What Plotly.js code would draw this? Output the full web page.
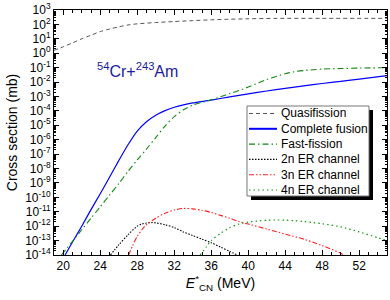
<!DOCTYPE html>
<html>
<head>
<meta charset="utf-8">
<script src="https://cdn.plot.ly/plotly-3.0.1.min.js"></script>
<style>html,body{margin:0;padding:0;background:#fff;}#chart{width:390px;height:300px;}</style>
</head>
<body>
<div id="chart"></div>
<script>
// Series names
const seriesNames = ["Quasifission", "Complete fusion", "Fast-fission", "2n ER channel", "3n ER channel", "4n ER channel"];

// Energies E*_CN (MeV) and log10 of cross section (mb)
const energyQF = [19, 20, 21, 22, 23, 24, 25, 26, 27, 28, 30, 32, 34, 36, 38, 40, 43, 48, 55];
const logQF = [0.2, 0.45, 0.72, 1.0, 1.25, 1.5, 1.68, 1.83, 1.96, 2.04, 2.13, 2.2, 2.26, 2.32, 2.36, 2.39, 2.42, 2.42, 2.42];

const energyCF = [20.2, 21, 22, 23, 24, 25, 26, 27, 28, 29, 30, 31, 32, 33, 34, 36, 38, 40, 42, 44, 46, 48, 50, 52, 55];
const logCF = [-14, -13.1, -12.0, -10.85, -9.75, -8.6, -7.45, -6.35, -5.4, -4.75, -4.3, -3.98, -3.75, -3.58, -3.45, -3.25, -3.03, -2.82, -2.62, -2.44, -2.26, -2.1, -1.95, -1.8, -1.55];

const energyFF = [19.8, 21, 22, 23, 24, 25, 26, 27, 28, 29, 30, 31, 32, 33, 34, 36, 38, 40, 42, 44, 45, 46, 48, 50, 52, 55];
const logFF = [-14, -13.05, -12.25, -11.45, -10.65, -9.85, -9.05, -8.2, -7.4, -6.65, -5.85, -5.05, -4.4, -3.92, -3.6, -3.23, -2.8, -2.35, -1.82, -1.42, -1.28, -1.2, -1.1, -1.06, -1.03, -1.0];

const energy2n = [25.1, 26, 27, 28, 28.5, 29, 29.6, 30, 31, 32, 33, 34, 35, 36, 37, 38, 38.8];
const log2n = [-14, -13.3, -12.6, -12.0, -11.85, -11.78, -11.75, -11.77, -11.9, -12.1, -12.4, -12.65, -12.9, -13.15, -13.45, -13.75, -14];

const energy3n = [27.06, 27.5, 28, 28.5, 29, 30, 31, 32, 33, 34, 35, 36, 37, 38, 39, 40, 42, 44, 46, 48, 50, 50.3];
const log3n = [-14, -13.35, -12.7, -12.25, -11.9, -11.45, -11.1, -10.88, -10.77, -10.8, -10.9, -11.05, -11.25, -11.45, -11.68, -11.85, -12.2, -12.55, -12.9, -13.35, -13.88, -14];

const energy4n = [34.8, 35.5, 36, 37, 38, 39, 40, 41, 42, 43, 44, 45, 46, 47, 48, 50, 52, 54, 55];
const log4n = [-14, -13.4, -13.0, -12.5, -12.1, -11.85, -11.72, -11.64, -11.59, -11.57, -11.58, -11.62, -11.68, -11.75, -11.83, -12.05, -12.4, -12.8, -13.0];

// Y tick exponents
const yTickExp = [-14, -13, -12, -11, -10, -9, -8, -7, -6, -5, -4, -3, -2, -1, 0, 1, 2, 3];

const toMb = a => a.map(v => Math.pow(10, v));

const styles = [
  {color: '#555555', dash: '4px,3px', width: 1},
  {color: '#0000ff', dash: 'solid', width: 1.2},
  {color: '#118811', dash: '6px,3px,1.5px,3px', width: 1.1},
  {color: '#000000', dash: '1.5px,1.5px', width: 1.1},
  {color: '#ff2020', dash: '5px,2px,1.5px,2px,1.5px,2px', width: 1.1},
  {color: '#119911', dash: '1.5px,3px', width: 1.2}
];
const xs = [energyQF, energyCF, energyFF, energy2n, energy3n, energy4n];
const ys = [logQF, logCF, logFF, log2n, log3n, log4n];

const traces = xs.map((x, i) => ({
  x: x, y: toMb(ys[i]), name: seriesNames[i], type: 'scatter', mode: 'lines',
  line: {color: styles[i].color, dash: styles[i].dash, width: styles[i].width, shape: 'spline', smoothing: 0.8},
  showlegend: false, cliponaxis: true
}));

// layout geometry helpers (pixel -> paper)
const M = {l: 54, r: 3, t: 10, b: 45};
const W = 390, H = 300;
const pw = W - M.l - M.r, ph = H - M.t - M.b;
const px = p => (p - M.l) / pw;
const py = p => 1 - (p - M.t) / ph;

const shapes = [];
const annotations = [];
// legend shadow and box
shapes.push({type: 'rect', xref: 'paper', yref: 'paper', x0: px(251), x1: px(373), y0: py(200), y1: py(110), fillcolor: '#000', line: {width: 0}, layer: 'above'});
shapes.push({type: 'rect', xref: 'paper', yref: 'paper', x0: px(247), x1: px(369), y0: py(196), y1: py(106), fillcolor: '#fff', line: {color: '#777', width: 1}, layer: 'above'});
seriesNames.forEach((n, i) => {
  const yy = 113.5 + i * 15.3;
  shapes.push({type: 'line', xref: 'paper', yref: 'paper', x0: px(249), x1: px(277), y0: py(yy), y1: py(yy),
    line: {color: styles[i].color, dash: styles[i].dash, width: i === 1 ? 2 : styles[i].width}, layer: 'above'});
  annotations.push({xref: 'paper', yref: 'paper', x: px(279), y: py(yy), text: n, showarrow: false,
    xanchor: 'left', yanchor: 'middle', font: {family: 'Liberation Sans, Arial, sans-serif', size: 12, color: '#000'}});
});
annotations.push({xref: 'paper', yref: 'paper', x: px(95), y: py(70), text: '<sup>54</sup>Cr+<sup>243</sup>Am', showarrow: false,
  xanchor: 'left', yanchor: 'middle', font: {family: 'Liberation Sans, Arial, sans-serif', size: 16, color: '#1c1c9e'}});

const layout = {
  width: W, height: H,
  margin: M,
  paper_bgcolor: '#fff', plot_bgcolor: '#fff',
  font: {family: 'Liberation Sans, Arial, sans-serif', size: 12, color: '#000'},
  xaxis: {
    range: [19, 55], tick0: 20, dtick: 4, ticks: 'inside', ticklen: 5, tickcolor: '#000',
    showline: true, linecolor: '#000', linewidth: 1, mirror: 'ticks', showgrid: false, zeroline: false,
    minor: {dtick: 1, ticks: 'inside', ticklen: 3, tickcolor: '#000', showgrid: false},
    tickfont: {size: 12},
    title: {text: '<i>E</i><sup>*</sup><sub>CN</sub> (MeV)', font: {size: 14}, standoff: 4}
  },
  yaxis: {
    type: 'log', range: [-14, 3], tickmode: 'array',
    tickvals: yTickExp.map(e => Math.pow(10, e)),
    ticktext: yTickExp.map(e => '10<sup>' + e + '</sup>'),
    ticks: 'inside', ticklen: 5, tickcolor: '#000',
    showline: true, linecolor: '#000', linewidth: 1, mirror: 'ticks', showgrid: false, zeroline: false,
    minor: {dtick: 'D1', ticks: 'inside', ticklen: 2, tickcolor: '#000', showgrid: false},
    tickfont: {size: 12},
    title: {text: 'Cross section (mb)', font: {size: 14}, standoff: 4}
  },
  shapes: shapes,
  annotations: annotations,
  showlegend: false
};

Plotly.newPlot('chart', traces, layout, {staticPlot: true, displayModeBar: false});
</script>
</body>
</html>
